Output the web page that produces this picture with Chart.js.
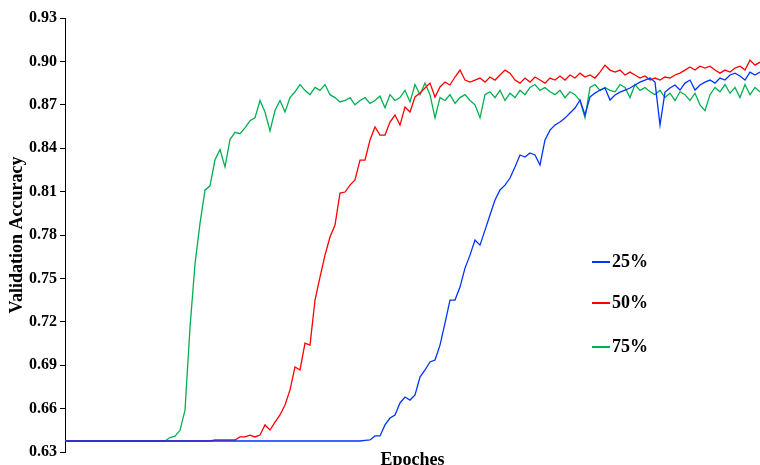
<!DOCTYPE html>
<html>
<head>
<meta charset="utf-8">
<script src="https://cdn.jsdelivr.net/npm/chart.js@4"></script>
<style>
  body { margin: 0; background: #fff; }
  #wrap { position: relative; width: 760px; height: 465px; overflow: hidden; }
  .leg { position: absolute; left: 592px; font: bold 18px "Liberation Serif", serif; color: #000; display: flex; align-items: center; }
  .leg span.ln { display: inline-block; width: 18px; height: 2px; margin-right: 2px; }
</style>
</head>
<body>
<div id="wrap">
  <canvas id="accChart" width="760" height="465"></canvas>
</div>
<script>
// valores, un punto cada ~5 px del eje x
const seriesNames = ['25%', '50%', '75%'];
const seriesColors = ['rgb(0, 51, 255)', 'rgb(255, 0, 0)', 'rgb(0, 176, 80)'];
const yTicks = [0.63, 0.66, 0.69, 0.72, 0.75, 0.78, 0.81, 0.84, 0.87, 0.90, 0.93];

const acc25 = [
  0.6376, 0.6376, 0.6376, 0.6376, 0.6376, 0.6376, 0.6376, 0.6376, 0.6376, 0.6376,
  0.6376, 0.6376, 0.6376, 0.6376, 0.6376, 0.6376, 0.6376, 0.6376, 0.6376, 0.6376,
  0.6376, 0.6376, 0.6376, 0.6376, 0.6376, 0.6376, 0.6376, 0.6376, 0.6376, 0.6376,
  0.6376, 0.6376, 0.6376, 0.6376, 0.6376, 0.6376, 0.6376, 0.6376, 0.6376, 0.6376,
  0.6376, 0.6376, 0.6376, 0.6376, 0.6376, 0.6376, 0.6376, 0.6376, 0.6376, 0.6376,
  0.6376, 0.6376, 0.6376, 0.6376, 0.6376, 0.6376, 0.6376, 0.6376, 0.6376, 0.6376,
  0.6380, 0.6383, 0.6411, 0.6411, 0.6487, 0.6535, 0.6556, 0.6639, 0.6680, 0.6659,
  0.6694, 0.6818, 0.6867, 0.6922, 0.6936, 0.7039, 0.7191, 0.7350, 0.7350, 0.7440,
  0.7571, 0.7661, 0.7765, 0.7730, 0.7834, 0.7938, 0.8042, 0.8111, 0.8145, 0.8194,
  0.8270, 0.8353, 0.8339, 0.8367, 0.8353, 0.8284, 0.8457, 0.8525, 0.8560, 0.8581,
  0.8608, 0.8643, 0.8678, 0.8733, 0.8629, 0.8754, 0.8781, 0.8802, 0.8816, 0.8733,
  0.8768, 0.8788, 0.8802, 0.8816, 0.8837, 0.8857, 0.8871, 0.8885, 0.8857, 0.8560,
  0.8788, 0.8816, 0.8837, 0.8802, 0.8850, 0.8871, 0.8802, 0.8837, 0.8857, 0.8871,
  0.8850, 0.8885, 0.8871, 0.8906, 0.8919, 0.8899, 0.8871, 0.8926, 0.8906, 0.8926
];

const acc50 = [
  0.6376, 0.6376, 0.6376, 0.6376, 0.6376, 0.6376, 0.6376, 0.6376, 0.6376, 0.6376,
  0.6376, 0.6376, 0.6376, 0.6376, 0.6376, 0.6376, 0.6376, 0.6376, 0.6376, 0.6376,
  0.6376, 0.6376, 0.6376, 0.6376, 0.6376, 0.6376, 0.6376, 0.6376, 0.6376, 0.6376,
  0.6383, 0.6383, 0.6383, 0.6383, 0.6383, 0.6404, 0.6404, 0.6417, 0.6404, 0.6417,
  0.6487, 0.6452, 0.6507, 0.6556, 0.6625, 0.6729, 0.6888, 0.6867, 0.7053, 0.7039,
  0.7350, 0.7509, 0.7661, 0.7786, 0.7869, 0.8090, 0.8097, 0.8145, 0.8180, 0.8318,
  0.8318, 0.8457, 0.8547, 0.8491, 0.8491, 0.8581, 0.8629, 0.8560, 0.8685, 0.8650,
  0.8754, 0.8781, 0.8816, 0.8850, 0.8754, 0.8823, 0.8857, 0.8837, 0.8892, 0.8940,
  0.8871, 0.8857, 0.8871, 0.8885, 0.8857, 0.8892, 0.8871, 0.8906, 0.8940, 0.8919,
  0.8871, 0.8850, 0.8885, 0.8857, 0.8892, 0.8871, 0.8850, 0.8885, 0.8871, 0.8899,
  0.8871, 0.8906, 0.8885, 0.8919, 0.8892, 0.8906, 0.8885, 0.8926, 0.8974, 0.8940,
  0.8926, 0.8940, 0.8906, 0.8926, 0.8906, 0.8885, 0.8899, 0.8871, 0.8885, 0.8871,
  0.8892, 0.8885, 0.8906, 0.8919, 0.8940, 0.8961, 0.8940, 0.8967, 0.8954, 0.8967,
  0.8940, 0.8919, 0.8940, 0.8926, 0.8954, 0.8967, 0.8940, 0.9009, 0.8974, 0.8995
];

const acc75 = [
  0.6376, 0.6376, 0.6376, 0.6376, 0.6376, 0.6376, 0.6376, 0.6376, 0.6376, 0.6376,
  0.6376, 0.6376, 0.6376, 0.6376, 0.6376, 0.6376, 0.6376, 0.6376, 0.6376, 0.6376,
  0.6376, 0.6400, 0.6410, 0.6450, 0.6590, 0.7160, 0.7600, 0.7880, 0.8110, 0.8140,
  0.8320, 0.8390, 0.8270, 0.8460, 0.8510, 0.8500, 0.8540, 0.8590, 0.8610, 0.8730,
  0.8650, 0.8520, 0.8660, 0.8730, 0.8650, 0.8750, 0.8790, 0.8840, 0.8800, 0.8770,
  0.8820, 0.8800, 0.8840, 0.8770, 0.8750, 0.8720, 0.8730, 0.8750, 0.8700, 0.8730,
  0.8750, 0.8710, 0.8730, 0.8760, 0.8680, 0.8770, 0.8730, 0.8750, 0.8800, 0.8720,
  0.8840, 0.8770, 0.8850, 0.8770, 0.8610, 0.8750, 0.8730, 0.8770, 0.8710, 0.8750,
  0.8770, 0.8730, 0.8700, 0.8610, 0.8770, 0.8790, 0.8750, 0.8800, 0.8730, 0.8780,
  0.8750, 0.8800, 0.8770, 0.8820, 0.8840, 0.8800, 0.8820, 0.8790, 0.8770, 0.8800,
  0.8750, 0.8790, 0.8770, 0.8730, 0.8610, 0.8820, 0.8840, 0.8800, 0.8820, 0.8800,
  0.8790, 0.8840, 0.8820, 0.8750, 0.8840, 0.8800, 0.8820, 0.8790, 0.8770, 0.8800,
  0.8750, 0.8780, 0.8730, 0.8790, 0.8770, 0.8730, 0.8780, 0.8700, 0.8660, 0.8770,
  0.8820, 0.8790, 0.8840, 0.8780, 0.8820, 0.8750, 0.8840, 0.8770, 0.8820, 0.8790
];

const epochs = acc25.map((v, i) => i + 1);

document.addEventListener('DOMContentLoaded', function () {
  const ctx = document.getElementById('accChart').getContext('2d');
  const serif = '"Liberation Serif", "Times New Roman", serif';
  const allSeries = [acc25, acc50, acc75];

  const accChart = new Chart(ctx, {
    type: 'line',
    data: {
      labels: epochs,
      datasets: allSeries.map((vals, k) => ({
        label: seriesNames[k],
        data: vals,
        borderColor: seriesColors[k],
        borderWidth: 1.3,
        pointRadius: 0,
        tension: 0,
        fill: false
      }))
    },
    options: {
      responsive: false,
      animation: false,
      layout: { padding: { top: 18, right: 0, left: 0, bottom: 0 } },
      plugins: {
        legend: { display: false },
        tooltip: { enabled: false }
      },
      scales: {
        x: {
          type: 'category',
          offset: false,
          grid: { display: false },
          border: { display: false },
          ticks: { display: false },
          title: {
            display: true,
            text: 'Epoches',
            color: '#000',
            font: { family: serif, size: 18, weight: 'bold' },
            padding: { top: 0, bottom: -6 }
          },
          afterFit: function (scale) { scale.height = 13; }
        },
        y: {
          min: 0.63,
          max: 0.93,
          afterBuildTicks: function (scale) {
            scale.ticks = yTicks.map(v => ({ value: v }));
          },
          grid: { drawOnChartArea: false, tickLength: 5, color: '#000' },
          border: { display: true, color: '#000', width: 1 },
          ticks: {
            color: '#000',
            padding: 3,
            font: { family: serif, size: 16, weight: 'bold' },
            callback: v => Number(v).toFixed(2)
          },
          title: {
            display: true,
            text: 'Validation Accuracy',
            color: '#000',
            font: { family: serif, size: 18, weight: 'bold' },
            padding: { top: 7, bottom: 0 }
          },
          afterFit: function (scale) { scale.width = 65; }
        }
      }
    }
  });

  // leyenda en html a la derecha del grafico
  const legTops = [262, 303, 347];
  const wrap = document.getElementById('wrap');
  seriesNames.forEach((name, k) => {
    const d = document.createElement('div');
    d.className = 'leg';
    d.style.top = (legTops[k] - 11) + 'px';
    d.innerHTML = '<span class="ln" style="background:' + seriesColors[k] + '"></span>' + name;
    wrap.appendChild(d);
  });
});
</script>
</body>
</html>
